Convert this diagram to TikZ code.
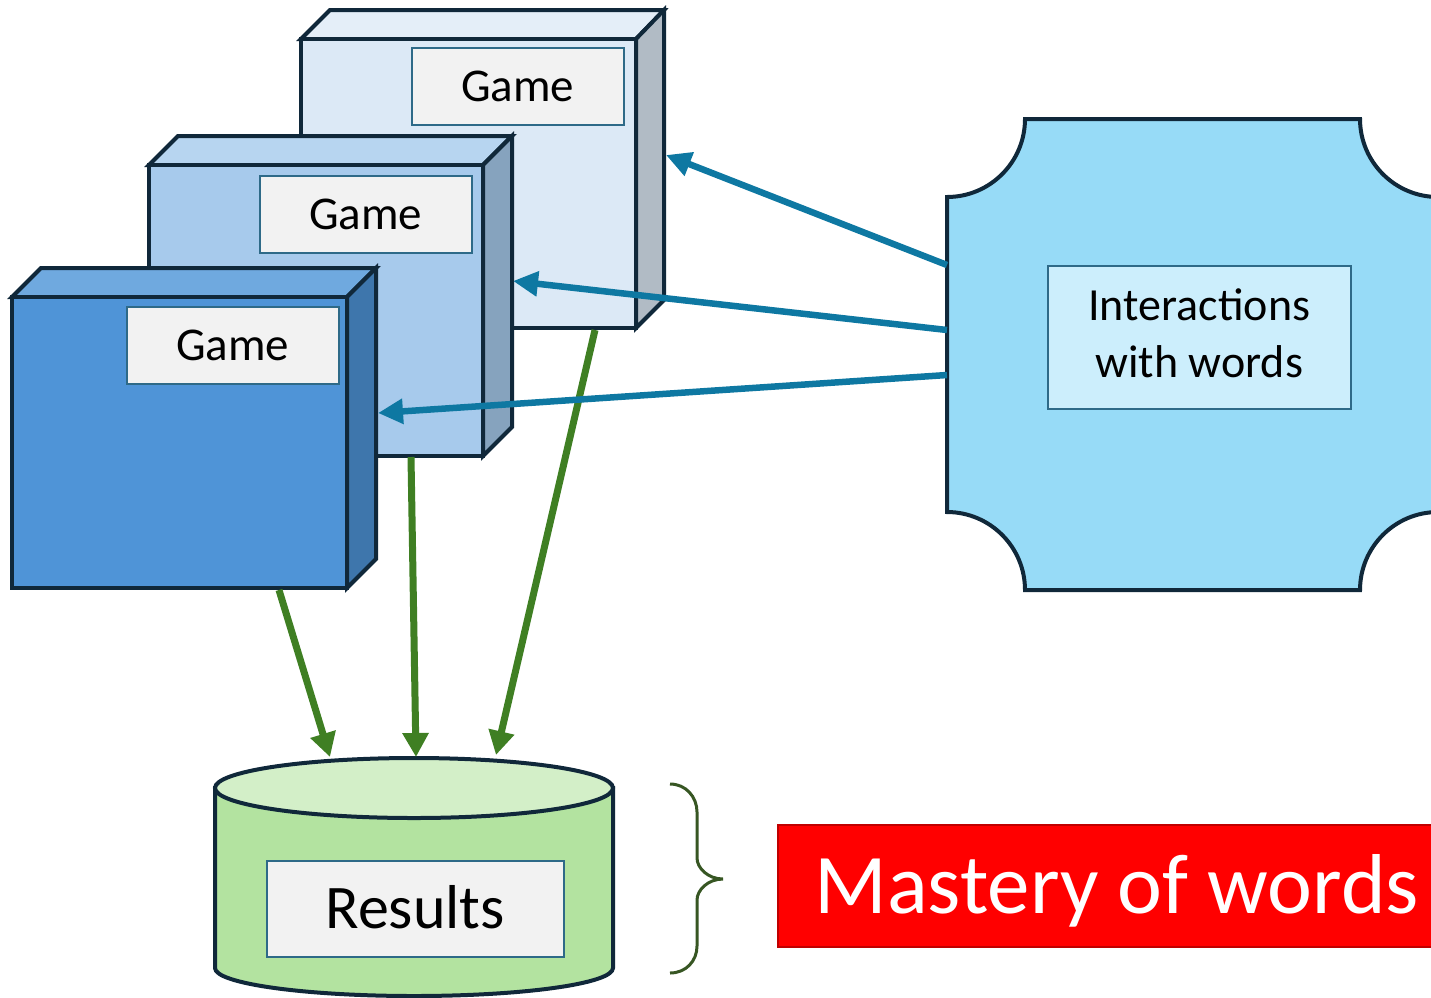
\documentclass[tikz,border=0pt]{standalone}
\usepackage{fontspec}
\setmainfont{Carlito}
\usetikzlibrary{arrows.meta}
\definecolor{outl}{HTML}{10283A}
\definecolor{bAfront}{HTML}{4F94D7}
\definecolor{bAtop}{HTML}{6FA9DF}
\definecolor{bAside}{HTML}{3E76AC}
\definecolor{bBfront}{HTML}{A7CAEC}
\definecolor{bBtop}{HTML}{B7D5F0}
\definecolor{bBside}{HTML}{86A3BE}
\definecolor{bCfront}{HTML}{DCE9F6}
\definecolor{bCtop}{HTML}{E4EEF8}
\definecolor{bCside}{HTML}{B1BBC5}
\definecolor{labfill}{HTML}{F2F2F2}
\definecolor{labdraw}{HTML}{2E6A88}
\definecolor{plaquefill}{HTML}{97DBF7}
\definecolor{plaquelab}{HTML}{CCEEFC}
\definecolor{arrblue}{HTML}{0E78A2}
\definecolor{arrgreen}{HTML}{3F7F23}
\definecolor{cylside}{HTML}{B3E3A0}
\definecolor{cyltop}{HTML}{D3EFC8}
\definecolor{bracecol}{HTML}{375623}
\definecolor{redborder}{HTML}{C00000}
\begin{document}
\begin{tikzpicture}[x=1pt,y=-1pt,
  faceline/.style={draw=outl, line width=4pt, line join=miter},
  face/.style={faceline, anchor=north west, inner sep=0pt, outer sep=0pt},
  gamelab/.style={draw=labdraw, line width=1.5pt, fill=labfill, minimum width=212pt,
    minimum height=77pt, anchor=north west, inner sep=0pt,
    font=\fontsize{47}{56}\selectfont, text height=30pt, text depth=0pt},
  barrow/.style={draw=arrblue, line width=6.5pt, -{Triangle[length=25pt,width=24pt]}},
  garrow/.style={draw=arrgreen, line width=7pt, -{Triangle[length=24pt,width=25pt]}}
]
\useasboundingbox (0,0) rectangle (1431,997);
\clip (0,0) rectangle (1431,997);

% back game box
\filldraw[faceline, fill=bCtop] (301,39) -- (330,10) -- (664,10) -- (636,39) -- cycle;
\filldraw[faceline, fill=bCside] (636,39) -- (664,10) -- (664,300) -- (636,328) -- cycle;
\node[face, fill=bCfront, minimum width=335pt, minimum height=289pt] (g3) at (301,39) {};
\node[gamelab] (l3) at (411,47) {Game};

% middle game box
\filldraw[faceline, fill=bBtop] (149,165) -- (178,136) -- (512,136) -- (483,165) -- cycle;
\filldraw[faceline, fill=bBside] (483,165) -- (512,136) -- (512,427) -- (483,456) -- cycle;
\node[face, fill=bBfront, minimum width=334pt, minimum height=291pt] (g2) at (149,165) {};
\node[gamelab] (l2) at (259,175) {Game};

% front game box
\filldraw[faceline, fill=bAtop] (12,297) -- (41,268) -- (376,268) -- (347,297) -- cycle;
\filldraw[faceline, fill=bAside] (347,297) -- (376,268) -- (376,559) -- (347,588) -- cycle;
\node[face, fill=bAfront, minimum width=335pt, minimum height=291pt] (g1) at (12,297) {};
\node[gamelab] (l1) at (126,306) {Game};

% plaque
\filldraw[faceline, fill=plaquefill]
  (947,197) .. controls (990,197) and (1025,162) .. (1025,119)
  -- (1360,119) .. controls (1360,162) and (1395,197) .. (1438,197)
  -- (1438,512) .. controls (1395,512) and (1360,547) .. (1360,590)
  -- (1025,590) .. controls (1025,547) and (990,512) .. (947,512) -- cycle;
\node[draw=labdraw, line width=1.5pt, fill=plaquelab, minimum width=303pt, minimum height=143pt,
  anchor=north west, inner sep=0pt, align=center, font=\fontsize{46}{57}\selectfont,
  text height=81pt, text depth=0pt] (inter) at (1047,265) {Interactions\\with words};

% results cylinder
\filldraw[faceline, fill=cylside] (215,788) -- (215,968)
  .. controls (215,983.5) and (304,996) .. (414,996)
  .. controls (524,996) and (613,983.5) .. (613,968) -- (613,788) -- cycle;
\filldraw[faceline, fill=cyltop] (414,788) ellipse [x radius=199pt, y radius=30pt];
\node[draw=labdraw, line width=1.5pt, fill=labfill, minimum width=297pt, minimum height=96pt,
  anchor=north west, inner sep=0pt, font=\fontsize{62}{74}\selectfont,
  text height=40pt, text depth=0pt] (res) at (266,860) {Results};

% brace
\draw[draw=bracecol, line width=3pt] (670,784) .. controls (686,784) and (697,797) .. (697,812)
  -- (697,858) .. controls (697,868) and (708,879) .. (723,879)
  .. controls (708,879) and (697,890) .. (697,900)
  -- (697,946) .. controls (697,961) and (686,973) .. (670,973);

% mastery box
\node[draw=redborder, line width=1.5pt, fill=red, text=white, minimum width=678pt,
  minimum height=122pt, anchor=north west, inner sep=0pt,
  font=\fontsize{85}{100}\selectfont, text height=55pt, text depth=0pt] (mastery) at (777,824) {Mastery of words};

% coordinates for connectors
\coordinate (ps1) at (947,265);
\coordinate (ps2) at (947,330);
\coordinate (ps3) at (947,375);
\coordinate (pe1) at (666,155);
\coordinate (pe2) at (513,281);
\coordinate (pe3) at (378,413);
\coordinate (gs1) at (279,590);
\coordinate (gs2) at (411,457);
\coordinate (gs3) at (595,330);
\coordinate (ge1) at (330,757);
\coordinate (ge2) at (416,757);
\coordinate (ge3) at (496,755);

\draw[garrow] (gs1) -- (ge1);
\draw[garrow] (gs2) -- (ge2);
\draw[garrow] (gs3) -- (ge3);
\draw[barrow] (ps1) -- (pe1);
\draw[barrow] (ps2) -- (pe2);
\draw[barrow] (ps3) -- (pe3);
\end{tikzpicture}
\end{document}
